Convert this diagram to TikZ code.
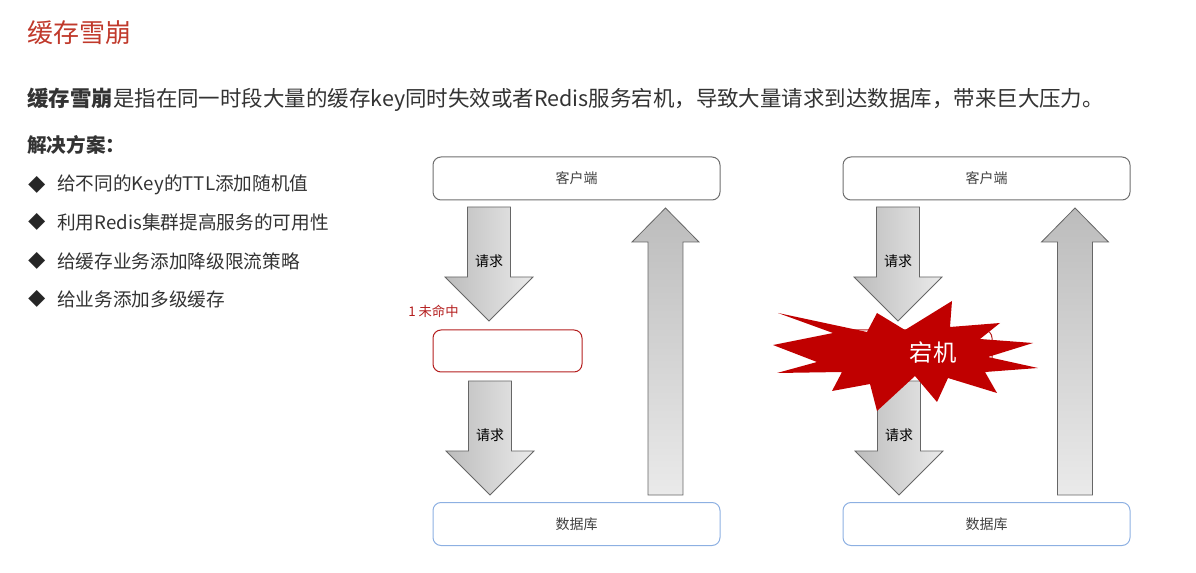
\documentclass[tikz,border=0pt]{standalone}
\usepackage{fontspec}
\setmainfont{Noto Sans CJK SC}
\usetikzlibrary{positioning,calc}

\definecolor{titlered}{RGB}{192,57,43}
\definecolor{missred}{RGB}{180,30,30}
\definecolor{crashred}{RGB}{192,0,0}
\definecolor{boxgray}{RGB}{110,110,110}
\definecolor{dbblue}{RGB}{141,176,226}
\definecolor{txtgray}{RGB}{51,51,51}
\definecolor{lblgray}{RGB}{64,64,64}
\definecolor{arrowdark}{RGB}{188,188,188}
\definecolor{arrowlight}{RGB}{234,234,234}

\tikzset{
  box/.style={draw=boxgray, line width=0.75pt, rounded corners=6pt, minimum width=215.25pt,
    minimum height=32.25pt, inner sep=0pt, font=\fontsize{10.5}{12}\selectfont, text=lblgray},
  dbbox/.style={box, draw=dbblue},
  cachebox/.style={box, draw=missred, minimum width=111.75pt, minimum height=31.5pt},
  blockdown/.style={draw=black!60, line width=0.6pt, left color=arrowdark, right color=arrowlight},
  blockup/.style={draw=black!60, line width=0.6pt, top color=arrowdark, bottom color=arrowlight},
  reqlabel/.style={inner sep=0pt, font=\fontsize{10.5}{12}\selectfont},
  txt/.style={anchor=west, inner sep=0pt, text=txtgray},
}

% block arrows between two named points
\newcommand{\downblock}[2]{%
  \path[blockdown] let \p1=(#1), \p2=(#2) in
    (\x1-16.1pt,\y1) -- (\x1+16.1pt,\y1) -- (\x1+16.1pt,\y2+33pt)
    -- (\x1+33pt,\y2+33pt) -- (\x2,\y2) -- (\x1-33pt,\y2+33pt)
    -- (\x1-16.1pt,\y2+33pt) -- cycle;}
\newcommand{\upblock}[2]{%
  \path[blockup] let \p1=(#1), \p2=(#2) in
    (\x1-13.1pt,\y1) -- (\x1+13.1pt,\y1) -- (\x1+13.1pt,\y2-25.5pt)
    -- (\x1+25.1pt,\y2-25.5pt) -- (\x2,\y2) -- (\x1-25.1pt,\y2-25.5pt)
    -- (\x1-13.1pt,\y2-25.5pt) -- cycle;}

\begin{document}
\begin{tikzpicture}[x=0.75pt, y=-0.75pt]
\useasboundingbox (0,0) rectangle (1196,573);

% text on the left
\node[txt, text=titlered, font=\fontsize{19.5}{23}\selectfont] (title) at (27,33) {缓存雪崩};
\node[txt, font=\fontsize{16.1}{20}\selectfont] (intro) at (27,100)
  {\textbf{缓存雪崩}是指在同一时段大量的缓存key同时失效或者Redis服务宕机，导致大量请求到达数据库，带来巨大压力。};
\node[txt, font=\bfseries\fontsize{14.7}{18}\selectfont] (solhead) at (27,145) {解决方案：};
\foreach \i/\y/\t in {1/185/给不同的Key的TTL添加随机值, 2/222/利用Redis集群提高服务的可用性,
    3/261/给缓存业务添加降级限流策略, 4/299/给业务添加多级缓存} {
  \node[inner sep=0pt, text=black!85, font=\fontsize{13}{14}\selectfont] (mark\i) at (37,\y) {◆};
  \node[txt, font=\fontsize{14}{17}\selectfont] (sol\i) at (57,\y) {\t};
}

% left case: cache miss
\node[box] (client1) at (576.5,178.5) {客户端};
\node[cachebox] (cache1) at (507.5,351) {};
\node[dbbox] (db1) at (576.5,524) {数据库};
\node[txt, text=missred, font=\fontsize{10}{12}\selectfont] (miss1) at (408,311) {1 未命中};

\coordinate (a1s) at (489,207);
\coordinate (a1e) at (489,321);
\downblock{a1s}{a1e}
\node[reqlabel] (req1a) at (489,261) {请求};
\coordinate (a2s) at (490,381);
\coordinate (a2e) at (490,495);
\downblock{a2s}{a2e}
\node[reqlabel] (req1b) at (490,435) {请求};
\coordinate (u1s) at (665.5,495);
\coordinate (u1e) at (665.5,208);
\upblock{u1s}{u1e}

% right case: redis down
\node[box] (client2) at (986.5,178.5) {客户端};
\node[cachebox] (cache2) at (917.5,351) {};
\node[dbbox] (db2) at (986.5,524) {数据库};

\coordinate (b1s) at (898,207);
\coordinate (b1e) at (898,321);
\downblock{b1s}{b1e}
\node[reqlabel] (req2a) at (898,261) {请求};
\coordinate (b2s) at (899,381);
\coordinate (b2e) at (899,495);
\downblock{b2s}{b2e}
\node[reqlabel] (req2b) at (899,435) {请求};
\coordinate (u2s) at (1075,495);
\coordinate (u2e) at (1075,208);
\upblock{u2s}{u2e}

% the burst
\fill[crashred] (778,313) -- (867,332) -- (877,313) -- (905,330) -- (952,301) -- (950,327)
  -- (1000,323) -- (980,339) -- (1033,343) -- (988,357) -- (1038,368) -- (985,372)
  -- (997,393) -- (948,378) -- (937,402) -- (915,376) -- (877,411) -- (870,384)
  -- (832,391) -- (842,372) -- (777,373) -- (817,362) -- (773,345) -- (833,333) -- cycle;
\node[inner sep=0pt, text=white, font=\fontsize{17.5}{20}\selectfont] (crash) at (933,353) {宕机};
\end{tikzpicture}
\end{document}
